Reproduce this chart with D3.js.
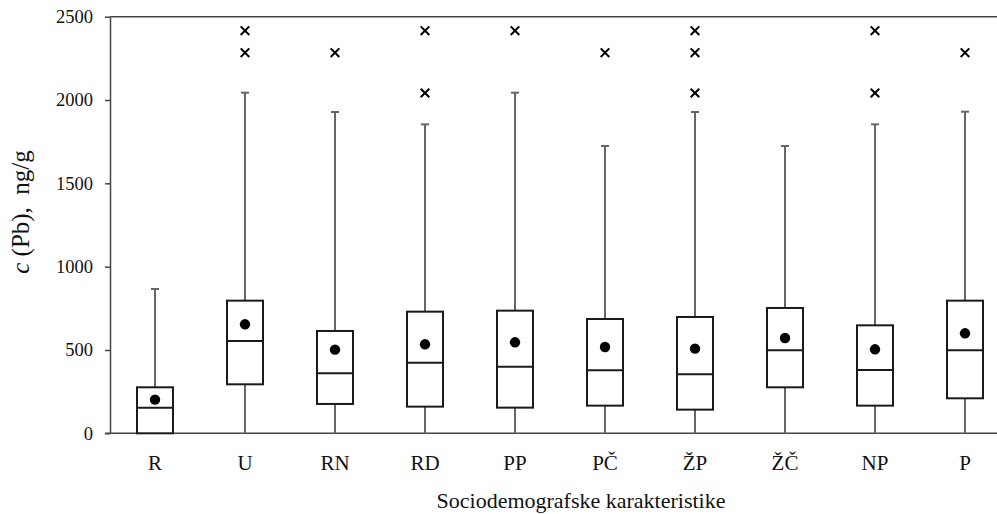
<!DOCTYPE html>
<html><head><meta charset="utf-8">
<script src="https://cdn.jsdelivr.net/npm/d3@7/dist/d3.min.js"></script>
<style>body{margin:0;background:#fff}svg{display:block}text{font-family:"Liberation Serif","Times New Roman",serif}</style>
</head><body>
<svg id="c" width="997" height="514"></svg>
<script>
const categories = ["R","U","RN","RD","PP","PČ","ŽP","ŽČ","NP","P"];
const whiskerLow = [0,0,0,0,0,0,0,0,0,0];
const q1 =        [0,294,176,160,154,166,142,276,166,210];
const median =    [154,554,360,424,400,378,354,498,380,498];
const q3 =        [276,796,614,730,736,686,698,752,648,796];
const whiskerHigh=[866,2044,1928,1854,2044,1724,1928,1724,1854,1930];
const mean =      [202,654,502,534,546,518,508,572,504,600];
const outliers =  [[],[2416,2284],[2284],[2416,2042],[2416],[2284],[2416,2284,2042],[],[2416,2042],[2284]];
const yTicks = [0,500,1000,1500,2000,2500];

const svg = d3.select("#c");
const L = 110, R = 1010, T = 16.7, B = 433.3;
const x = d3.scaleBand().domain(categories).range([L, R]);
const y = d3.scaleLinear().domain([0, 2500]).range([B, T]);
const axisColor = "#444";
const serif = "Liberation Serif, Times New Roman, serif";

svg.append("line").attr("x1", L).attr("x2", 997).attr("y1", y(2500)).attr("y2", y(2500))
  .attr("stroke", axisColor).attr("stroke-width", 1.5);

const ya = svg.append("g").attr("transform", `translate(${L},0)`)
  .call(d3.axisLeft(y).tickValues(yTicks).tickFormat(d3.format("d")).tickSize(5).tickPadding(12).tickSizeOuter(0));
ya.attr("font-family", null);
ya.select(".domain").attr("stroke", axisColor).attr("stroke-width", 1.5);
ya.selectAll(".tick line").attr("stroke", axisColor).attr("stroke-width", 1.5);
ya.selectAll("text").style("font-family", serif).style("font-size", "18.5px").attr("fill", "#111");

const xa = svg.append("g").attr("transform", `translate(0,${B})`)
  .call(d3.axisBottom(x).tickSize(0).tickPadding(22));
xa.attr("font-family", null);
xa.select(".domain").remove();
svg.append("line").attr("x1", L - 5).attr("x2", 997).attr("y1", B).attr("y2", B)
  .attr("stroke", axisColor).attr("stroke-width", 1.5);
xa.selectAll("text").style("font-family", serif).style("font-size", "21px").attr("fill", "#111");

const bw = 36;
const g = svg.append("g");
categories.forEach((c, i) => {
  const cx = x(c) + x.bandwidth() / 2;
  if (whiskerHigh[i] > q3[i]) {
    g.append("line").attr("x1", cx).attr("x2", cx).attr("y1", y(q3[i])).attr("y2", y(whiskerHigh[i]))
      .attr("stroke", "#666").attr("stroke-width", 2);
    g.append("line").attr("x1", cx - 4).attr("x2", cx + 4).attr("y1", y(whiskerHigh[i])).attr("y2", y(whiskerHigh[i]))
      .attr("stroke", "#666").attr("stroke-width", 2);
  }
  if (q1[i] > whiskerLow[i]) {
    g.append("line").attr("x1", cx).attr("x2", cx).attr("y1", y(q1[i])).attr("y2", y(whiskerLow[i]))
      .attr("stroke", "#666").attr("stroke-width", 2);
  }
  g.append("rect").attr("x", cx - bw / 2).attr("y", y(q3[i])).attr("width", bw)
    .attr("height", y(q1[i]) - y(q3[i])).attr("fill", "#fff").attr("stroke", "#1a1a1a").attr("stroke-width", 2);
  g.append("line").attr("x1", cx - bw / 2).attr("x2", cx + bw / 2).attr("y1", y(median[i])).attr("y2", y(median[i]))
    .attr("stroke", "#1a1a1a").attr("stroke-width", 2);
  g.append("circle").attr("cx", cx).attr("cy", y(mean[i])).attr("r", 5.2).attr("fill", "#000");
  outliers[i].forEach(v => {
    const yy = y(v), s = 4.3;
    g.append("path").attr("d", `M${cx - s},${yy - s}L${cx + s},${yy + s}M${cx - s},${yy + s}L${cx + s},${yy - s}`)
      .attr("stroke", "#000").attr("stroke-width", 2).attr("fill", "none");
  });
});

const yl = svg.append("text").attr("transform", "translate(29,212) rotate(-90)")
  .attr("text-anchor", "middle").style("font-family", serif).style("font-size", "25px").attr("fill", "#111");
yl.append("tspan").style("font-style", "italic").text("c");
yl.append("tspan").text(" (Pb),\u00a0\u00a0ng/g");

svg.append("text").attr("x", 581).attr("y", 508).attr("text-anchor", "middle")
  .style("font-family", serif).style("font-size", "22px").attr("fill", "#111").text("Sociodemografske karakteristike");
</script>
</body></html>
